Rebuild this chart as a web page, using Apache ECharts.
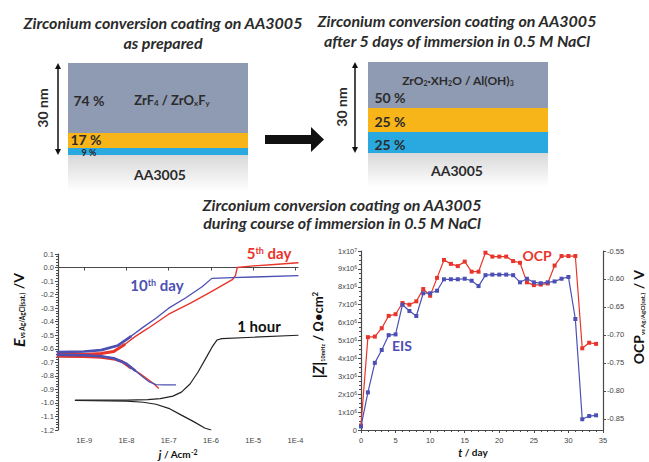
<!DOCTYPE html>
<html>
<head>
<meta charset="utf-8">
<script src="https://cdn.jsdelivr.net/npm/echarts@6/dist/echarts.min.js"></script>
<style>
html, body { margin: 0; padding: 0; background: #fff; }
#main { width: 649px; height: 462px; }
</style>
</head>
<body>
<div id="main"></div>
<script>
// polarization curves: current density j (A/cm2) and potential E (V vs Ag/AgCl)
const jDay5Anodic = [2.4e-10, 1e-9, 2.5e-9, 5e-9, 8.9e-9, 1.6e-8, 3.2e-8, 1e-7, 3.2e-7, 1e-6, 3.2e-6, 3.8e-6, 4.2e-6, 1e-5, 3.2e-5, 1.15e-4]
const eDay5Anodic = [-0.64, -0.642, -0.635, -0.62, -0.57, -0.51, -0.45, -0.345, -0.265, -0.18, -0.09, -0.06, 0.0, 0.012, 0.022, 0.035]
const jDay5Cathodic = [2.4e-10, 1e-9, 2.5e-9, 5e-9, 7.9e-9, 1.26e-8, 2e-8, 3.2e-8, 4.5e-8, 5.7e-8]
const eDay5Cathodic = [-0.655, -0.658, -0.662, -0.675, -0.695, -0.74, -0.78, -0.825, -0.86, -0.89]
const jDay10Anodic = [2.4e-10, 1e-9, 2.5e-9, 6.3e-9, 1.26e-8, 2.5e-8, 5e-8, 1e-7, 2.5e-7, 6.3e-7, 1.05e-6, 3.2e-6, 1e-5, 1.15e-4]
const eDay10Anodic = [-0.625, -0.62, -0.61, -0.575, -0.51, -0.44, -0.375, -0.3, -0.225, -0.14, -0.08, -0.075, -0.07, -0.06]
const jDay10Cathodic = [2.4e-10, 1e-9, 2.5e-9, 5e-9, 1e-8, 1.6e-8, 2.5e-8, 3.5e-8, 5e-8, 7.9e-8, 1.45e-7]
const eDay10Cathodic = [-0.645, -0.648, -0.655, -0.67, -0.71, -0.76, -0.81, -0.845, -0.865, -0.867, -0.867]
const jHourAnodic = [6.2e-10, 1e-8, 3.2e-8, 6.3e-8, 1.26e-7, 2e-7, 3.2e-7, 5e-7, 7.9e-7, 1.1e-6, 1.4e-6, 1.8e-6, 1e-5, 1.15e-4]
const eHourAnodic = [-0.98, -0.979, -0.975, -0.968, -0.95, -0.92, -0.86, -0.77, -0.66, -0.58, -0.535, -0.525, -0.515, -0.5]
const jHourCathodic = [6.2e-10, 1e-8, 2.5e-8, 5e-8, 1e-7, 2e-7, 4e-7, 7.1e-7, 1e-6]
const eHourCathodic = [-0.982, -0.987, -0.995, -1.01, -1.04, -1.09, -1.14, -1.185, -1.2]
const jTicks = [1e-9, 1e-8, 1e-7, 1e-6, 1e-5, 1e-4]

// immersion series
const days = [0, 1, 2, 3, 4, 5, 6, 7, 8, 9, 10, 11, 12, 13, 14, 15, 16, 17, 18, 19, 20, 21, 22, 23, 24, 25, 26, 27, 28, 29, 30, 31, 32, 33, 34]
const eis = [0.2e6, 2.1e6, 3.75e6, 4.47e6, 5.3e6, 5.34e6, 7.0e6, 6.65e6, 6.37e6, 7.64e6, 7.64e6, 7.78e6, 8.42e6, 8.42e6, 8.42e6, 8.45e6, 8.34e6, 8.04e6, 8.65e6, 8.68e6, 8.68e6, 8.68e6, 8.65e6, 8.25e6, 8.45e6, 8.25e6, 8.2e6, 8.25e6, 8.3e6, 8.45e6, 8.55e6, 6.2e6, 0.6e6, 0.78e6, 0.82e6]
const ocp = [-0.862, -0.704, -0.703, -0.688, -0.666, -0.663, -0.643, -0.646, -0.64, -0.618, -0.63, -0.598, -0.566, -0.573, -0.577, -0.569, -0.587, -0.587, -0.553, -0.56, -0.56, -0.56, -0.568, -0.571, -0.606, -0.611, -0.61, -0.608, -0.576, -0.559, -0.559, -0.559, -0.724, -0.714, -0.716]
const ocpTicks = [-0.85, -0.8, -0.75, -0.7, -0.65, -0.6, -0.55]

const RED = '#e8352b'
const BLUE = '#4c50b3'
const DARK = '#2b2b2b'
const AXIS = '#4a4a4a'
const GRAYBAND = '#8f9bb2'
const ORANGE = '#f8b519'
const CYAN = '#29a9e0'

function zip(a, b) {
  return a.map((v, i) => [v, b[i]])
}

function label(x, y, text, rich, extra) {
  return Object.assign({
    type: 'text',
    x: x,
    y: y,
    style: {
      text: text,
      rich: rich,
      align: 'center',
      verticalAlign: 'middle'
    }
  }, extra || {})
}

function rt(size, color, weight, style, va) {
  return {
    fontSize: size,
    fontFamily: 'Lato',
    fontWeight: weight || 'bold',
    fontStyle: style || 'normal',
    fill: color,
    verticalAlign: va || 'middle'
  }
}

function doubleArrow(x, y1, y2) {
  return [
    { type: 'line', shape: { x1: x, y1: y1 + 4, x2: x, y2: y2 - 4 }, style: { stroke: '#111', lineWidth: 1.5 } },
    { type: 'polygon', shape: { points: [[x - 3, y1 + 6], [x, y1], [x + 3, y1 + 6]] }, style: { fill: '#111' } },
    { type: 'polygon', shape: { points: [[x - 3, y2 - 6], [x, y2], [x + 3, y2 - 6]] }, style: { fill: '#111' } }
  ]
}

function baseGradient() {
  return new echarts.graphic.LinearGradient(0, 0, 0, 1, [
    { offset: 0, color: '#d8d8d8' },
    { offset: 1, color: '#ffffff' }
  ])
}

const titleRich = { t: Object.assign(rt(16, DARK, 'bold', 'italic'), { lineHeight: 16 }) }
const pctRich = { p: rt(14, DARK) }

const graphics = [
  // top left schematic
  label(163, 22, '{t|Zirconium conversion coating on AA3005}', titleRich),
  label(163, 42, '{t|as prepared}', titleRich),
  { type: 'rect', shape: { x: 68, y: 155, width: 180, height: 36 }, style: { fill: baseGradient() } },
  { type: 'rect', shape: { x: 68, y: 63, width: 180, height: 70 }, style: { fill: GRAYBAND } },
  { type: 'rect', shape: { x: 68, y: 133, width: 180, height: 15 }, style: { fill: ORANGE } },
  { type: 'rect', shape: { x: 68, y: 148, width: 180, height: 7 }, style: { fill: CYAN } },
  ...doubleArrow(58, 63, 155),
  label(42, 108, '{p|30 nm}', pctRich, { rotation: Math.PI / 2 }),
  label(89, 100, '{p|74 %}', pctRich),
  label(172, 100, '{a|ZrF}{s|4}{a| / ZrO}{s|x}{a|F}{s|y}', { a: rt(13, DARK), s: rt(8, DARK, 'bold', 'normal', 'bottom') }),
  label(86, 139, '{p|17 %}', pctRich),
  label(89, 152.5, '{p|9 %}', { p: rt(9, DARK) }),
  label(160, 174, '{p|AA3005}', pctRich),
  // arrow
  { type: 'rect', shape: { x: 265, y: 135, width: 47, height: 9 }, style: { fill: '#111' } },
  { type: 'polygon', shape: { points: [[311, 127], [324, 139.5], [311, 152]] }, style: { fill: '#111' } },
  // top right schematic
  label(457, 20, '{t|Zirconium conversion coating on AA3005}', titleRich),
  label(457, 40, '{t|after 5 days of immersion in 0.5 M NaCl}', titleRich),
  { type: 'rect', shape: { x: 368, y: 153, width: 180, height: 34 }, style: { fill: baseGradient() } },
  { type: 'rect', shape: { x: 368, y: 62, width: 180, height: 46 }, style: { fill: GRAYBAND } },
  { type: 'rect', shape: { x: 368, y: 108, width: 180, height: 24 }, style: { fill: ORANGE } },
  { type: 'rect', shape: { x: 368, y: 132, width: 180, height: 21 }, style: { fill: CYAN } },
  ...doubleArrow(355, 62, 153),
  label(341, 107, '{p|30 nm}', pctRich, { rotation: Math.PI / 2 }),
  label(458, 80, '{a|ZrO}{s|2}{a|·XH}{s|2}{a|O / Al(OH)}{s|3}', { a: rt(12, DARK), s: rt(7, DARK, 'bold', 'normal', 'bottom') }),
  label(390, 97, '{p|50 %}', pctRich),
  label(390, 121, '{p|25 %}', pctRich),
  label(390, 144, '{p|25 %}', pctRich),
  label(457, 170, '{p|AA3005}', pctRich),
  // middle title
  label(342, 204, '{t|Zirconium conversion coating on AA3005}', titleRich),
  label(342, 222, '{t|during course of immersion in 0.5 M NaCl}', titleRich),
  // curve labels
  label(269, 253, '{a|5}{s|th}{a| day}', { a: rt(15, RED), s: rt(9, RED, 'bold', 'normal', 'top') }),
  label(157, 285, '{a|10}{s|th}{a| day}', { a: rt(15, BLUE), s: rt(9, BLUE, 'bold', 'normal', 'top') }),
  label(259, 326, '{a|1 hour}', { a: rt(15, '#111') }),
  label(537, 255, '{a|OCP}', { a: rt(14, RED) }),
  label(402, 345, '{a|EIS}', { a: rt(14, BLUE) }),
  // axis titles
  label(18, 310, '{e|E}{s|vs Ag/AgCl(sat.)}{v| /V}', { e: rt(16, '#111', 'bold', 'italic'), s: rt(6.5, '#111', 'bold', 'normal', 'bottom'), v: rt(14, '#111') }, { rotation: Math.PI / 2 }),
  label(178, 454, '{j|j}{a| / Acm}{s|-2}', { j: rt(12, '#111', 'bold', 'italic'), a: rt(10, '#111'), s: rt(7, '#111', 'bold', 'normal', 'top') }),
  label(318, 335, '{z||Z|}{s|10mHz}{a| / Ω•cm}{p|2}', { z: rt(15, '#111', 'bold', 'italic'), s: rt(5.5, '#111', 'bold', 'normal', 'bottom'), a: rt(13, '#111'), p: rt(8, '#111', 'bold', 'normal', 'top') }, { rotation: Math.PI / 2 }),
  label(638, 317, '{a|OCP}{s|vs Ag/AgCl(sat.)}{a| / V}', { a: rt(14, '#111'), s: rt(6, '#111', 'bold', 'normal', 'bottom') }, { rotation: Math.PI / 2 }),
  label(473, 452, '{t|t}{a| / day}', { t: rt(11, '#111', 'bold', 'italic'), a: rt(10, '#111') })
]

const tickFont = { fontSize: 7.5, fontFamily: 'Liberation Sans', color: '#444' }
const axisLine = { lineStyle: { color: AXIS, width: 1.2 } }

function curve(j, e, color, width, z) {
  return {
    type: 'line',
    xAxisIndex: 0,
    yAxisIndex: 0,
    data: zip(j, e),
    showSymbol: false,
    smooth: false,
    lineStyle: { color: color, width: width, join: 'round', cap: 'round' },
    z: z || 2,
    animation: false
  }
}

const chart = echarts.init(document.getElementById('main'), null, { renderer: 'svg' })
chart.setOption({
  backgroundColor: '#fff',
  animation: false,
  graphic: graphics,
  grid: [
    { left: 58, top: 254, width: 240, height: 176 },
    { left: 361, top: 251, width: 242, height: 179 }
  ],
  xAxis: [
    {
      type: 'log',
      gridIndex: 0,
      logBase: 10,
      min: 2.4e-10,
      max: 1.15e-4,
      axisLine: axisLine,
      axisTick: { customValues: jTicks, length: 3, lineStyle: { color: AXIS } },
      axisLabel: Object.assign({ customValues: jTicks, margin: 6, formatter: v => '1E' + Math.round(Math.log10(v)) }, tickFont),
      splitLine: { show: false },
      minorTick: { show: false }
    },
    {
      type: 'value',
      gridIndex: 1,
      min: 0,
      max: 35,
      interval: 5,
      axisLine: axisLine,
      axisTick: { length: 3, lineStyle: { color: AXIS } },
      minorTick: { show: true, splitNumber: 5, length: 2, lineStyle: { color: AXIS } },
      axisLabel: Object.assign({ margin: 6 }, tickFont),
      splitLine: { show: false }
    }
  ],
  yAxis: [
    {
      type: 'value',
      gridIndex: 0,
      min: -1.2,
      max: 0.1,
      interval: 0.1,
      axisLine: Object.assign({ show: true }, axisLine),
      axisTick: { length: 3, lineStyle: { color: AXIS } },
      minorTick: { show: true, splitNumber: 5, length: 2, lineStyle: { color: AXIS } },
      axisLabel: Object.assign({ margin: 4, formatter: v => (Math.abs(v) < 1e-9 ? '0.0' : v.toFixed(1)) }, tickFont),
      splitLine: { show: false }
    },
    {
      type: 'value',
      gridIndex: 1,
      min: 0,
      max: 1e7,
      interval: 1e6,
      axisLine: Object.assign({ show: true }, axisLine),
      axisTick: { length: 3, lineStyle: { color: AXIS } },
      minorTick: { show: true, splitNumber: 4, length: 2, lineStyle: { color: AXIS } },
      axisLabel: Object.assign({
        margin: 4,
        formatter: v => {
          if (v === 0) return '{n|0}'
          const p = Math.floor(Math.log10(v) + 1e-9)
          const m = Math.round(v / Math.pow(10, p))
          return '{n|' + m + 'x10}{s|' + p + '}'
        },
        rich: {
          n: { fontSize: 7.5, fontFamily: 'Liberation Sans', color: '#444' },
          s: { fontSize: 5, fontFamily: 'Liberation Sans', color: '#444', verticalAlign: 'top' }
        }
      }, tickFont),
      splitLine: { show: false }
    },
    {
      type: 'value',
      gridIndex: 1,
      position: 'right',
      min: -0.87,
      max: -0.55,
      axisLine: Object.assign({ show: true }, axisLine),
      axisTick: { customValues: ocpTicks, length: 3, lineStyle: { color: AXIS } },
      minorTick: { show: false },
      axisLabel: Object.assign({ customValues: ocpTicks, margin: 4, formatter: v => v.toFixed(2) }, tickFont),
      splitLine: { show: false }
    }
  ],
  series: [
    curve(jDay5Anodic, eDay5Anodic, RED, 1.4),
    curve(jDay5Cathodic, eDay5Cathodic, RED, 1.4),
    curve(jDay5Anodic.slice(0, 5), eDay5Anodic.slice(0, 5), RED, 3),
    curve(jDay5Cathodic.slice(0, 6), eDay5Cathodic.slice(0, 6), RED, 3),
    curve(jDay10Anodic, eDay10Anodic, BLUE, 1.3, 3),
    curve(jDay10Cathodic, eDay10Cathodic, BLUE, 1.3, 3),
    curve(jDay10Anodic.slice(0, 5), eDay10Anodic.slice(0, 5), BLUE, 2.6, 3),
    curve(jDay10Cathodic.slice(0, 6), eDay10Cathodic.slice(0, 6), BLUE, 2.6, 3),
    curve(jHourAnodic, eHourAnodic, '#222', 1.2),
    curve(jHourCathodic, eHourCathodic, '#222', 1.2),
    {
      type: 'line',
      name: 'OCP',
      xAxisIndex: 1,
      yAxisIndex: 2,
      data: zip(days, ocp),
      symbol: 'rect',
      symbolSize: 4,
      itemStyle: { color: RED },
      lineStyle: { color: RED, width: 1.2 }
    },
    {
      type: 'line',
      name: 'EIS',
      xAxisIndex: 1,
      yAxisIndex: 1,
      data: zip(days, eis),
      symbol: 'rect',
      symbolSize: 4,
      itemStyle: { color: BLUE },
      lineStyle: { color: BLUE, width: 1.2 }
    }
  ]
})
</script>
</body>
</html>
